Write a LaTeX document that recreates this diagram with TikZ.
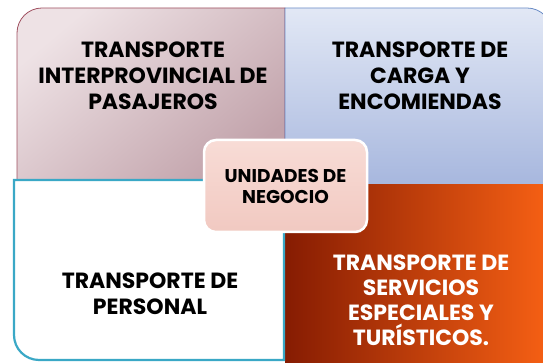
\documentclass[tikz,border=0pt]{standalone}
\usepackage{fontspec}
\setmainfont{Poppins}
\usetikzlibrary{calc}

\definecolor{tlLight}{HTML}{EEE2E5}
\definecolor{tlDark}{HTML}{C2A3AB}
\definecolor{tlBorder}{HTML}{A05060}
\definecolor{trLight}{HTML}{E2E8F5}
\definecolor{trDark}{HTML}{A7B7DE}
\definecolor{trBorder}{HTML}{6A8CC6}
\definecolor{brLeft}{HTML}{861C02}
\definecolor{brMid}{HTML}{DA4808}
\definecolor{brRight}{HTML}{F66014}
\definecolor{blBorder}{HTML}{3AA8C6}
\definecolor{hubTop}{HTML}{F8DCD6}
\definecolor{hubBottom}{HTML}{F1C9C1}

\begin{document}
\begin{tikzpicture}[x=1pt,y=1pt]
    \tikzset{quadtext/.style={align=center, inner sep=0pt, font=\fontsize{22}{26}\selectfont\bfseries},
             hubbox/.style={draw=white, line width=2.5pt, rounded corners=12pt, top color=hubTop, bottom color=hubBottom,
                            minimum width=163pt, minimum height=92pt, align=center, font=\fontsize{18.5}{21}\selectfont\bfseries}}
    
    \useasboundingbox (0,0) rectangle (543,363);
    \clip (0,0) rectangle (543,363);
    
    \coordinate (mid_top) at (285,355);
    \coordinate (mid_low) at (285,178);
    
    %Interprovincial
    \shadedraw[draw=tlBorder, line width=0.8pt, top color=tlLight, bottom color=tlDark, shading angle=40]
        (mid_top |- 0,183) -- (17,183) -- (17,330) arc[start angle=180, end angle=90, radius=25] -- (mid_top) -- cycle;
    
    %Carga
    \shadedraw[draw=trBorder, line width=0.8pt, top color=trLight, bottom color=trDark]
        (mid_low) -- (mid_top) -- (527,355) arc[start angle=90, end angle=0, radius=25] -- (552,178) -- cycle;
    
    %Servicios especiales
    \shade[left color=brLeft, middle color=brMid, right color=brRight] (mid_low) rectangle (548,-3);
    
    %Personal
    \filldraw[draw=blBorder, fill=white, line width=2.2pt]
        (284,183) -- (14,183) -- (14,28) arc[start angle=180, end angle=270, radius=25] -- (284,3) -- cycle;
    
    %texts
    \node[quadtext] (tl_text) at (153,287) {TRANSPORTE\\INTERPROVINCIAL DE\\PASAJEROS};
    \node[quadtext] (tr_text) at (420,287) {TRANSPORTE DE\\CARGA Y\\ENCOMIENDAS};
    \node[quadtext] (bl_text) at (150,69) {TRANSPORTE DE\\PERSONAL};
    \node[quadtext, text=white, font=\fontsize{22}{25}\selectfont\bfseries] (br_text) at (421,63)
        {TRANSPORTE DE\\SERVICIOS\\ESPECIALES Y\\TURÍSTICOS.};
    
    \node[hubbox] (hub) at (285.5,177) {UNIDADES DE\\NEGOCIO};
\end{tikzpicture}
\end{document}
